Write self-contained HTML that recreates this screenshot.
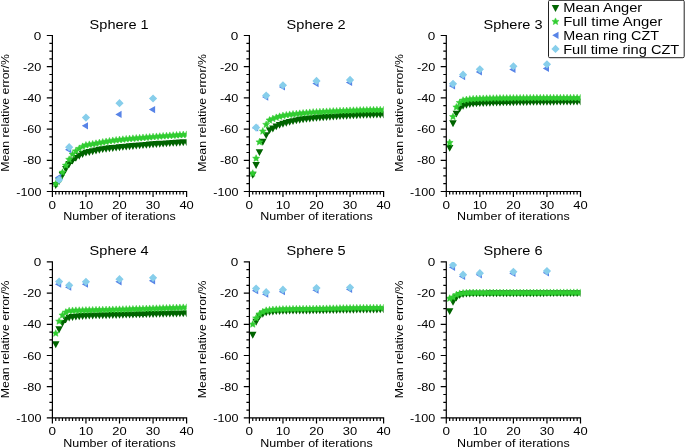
<!DOCTYPE html>
<html><head><meta charset="utf-8"><title>Mean relative error vs iterations</title>
<style>html,body{margin:0;padding:0;background:#fff}body{width:685px;height:448px;overflow:hidden;font-family:"Liberation Sans",sans-serif}svg{display:block;will-change:transform}</style>
</head><body>
<svg width="685" height="448" viewBox="0 0 685 448" font-family="'Liberation Sans', sans-serif" fill="#000">
<rect width="685" height="448" fill="#fff"/>
<defs>
<clipPath id="c0"><rect x="52.4" y="35.5" width="134.2" height="156"/></clipPath>
<clipPath id="c1"><rect x="249.4" y="35.5" width="134.2" height="156"/></clipPath>
<clipPath id="c2"><rect x="446.3" y="35.5" width="134.2" height="156"/></clipPath>
<clipPath id="c3"><rect x="52.4" y="261.9" width="134.2" height="156"/></clipPath>
<clipPath id="c4"><rect x="249.4" y="261.9" width="134.2" height="156"/></clipPath>
<clipPath id="c5"><rect x="446.3" y="261.9" width="134.2" height="156"/></clipPath>
</defs>
<g clip-path="url(#c0)"><path fill="#006400" d="M52 182.08h7.5l-3.75 6.9zM55.36 178.18h7.5l-3.75 6.9zM58.71 172.1h7.5l-3.75 6.9zM62.07 166.01h7.5l-3.75 6.9zM65.42 161.02h7.5l-3.75 6.9zM68.78 157.59h7.5l-3.75 6.9zM72.13 154.94h7.5l-3.75 6.9zM75.49 152.75h7.5l-3.75 6.9zM78.84 151.04h7.5l-3.75 6.9zM82.2 149.63h7.5l-3.75 6.9zM85.55 149.01h7.5l-3.75 6.9zM88.91 148.3h7.5l-3.75 6.9zM92.26 147.53h7.5l-3.75 6.9zM95.62 146.8h7.5l-3.75 6.9zM98.97 146.2h7.5l-3.75 6.9zM102.33 145.74h7.5l-3.75 6.9zM105.68 145.34h7.5l-3.75 6.9zM109.04 144.99h7.5l-3.75 6.9zM112.39 144.64h7.5l-3.75 6.9zM115.75 144.29h7.5l-3.75 6.9zM119.1 143.96h7.5l-3.75 6.9zM122.46 143.63h7.5l-3.75 6.9zM125.81 143.31h7.5l-3.75 6.9zM129.17 143h7.5l-3.75 6.9zM132.52 142.7h7.5l-3.75 6.9zM135.88 142.42h7.5l-3.75 6.9zM139.23 142.14h7.5l-3.75 6.9zM142.59 141.88h7.5l-3.75 6.9zM145.94 141.62h7.5l-3.75 6.9zM149.3 141.36h7.5l-3.75 6.9zM152.65 141.11h7.5l-3.75 6.9zM156.01 140.87h7.5l-3.75 6.9zM159.36 140.63h7.5l-3.75 6.9zM162.72 140.4h7.5l-3.75 6.9zM166.07 140.18h7.5l-3.75 6.9zM169.43 139.96h7.5l-3.75 6.9zM172.78 139.75h7.5l-3.75 6.9zM176.14 139.55h7.5l-3.75 6.9zM179.49 139.36h7.5l-3.75 6.9zM182.85 139.18h7.5l-3.75 6.9z"/><path fill="#32cd32" stroke="#32cd32" stroke-width="0.5" stroke-linejoin="round" d="M55.75 180.16L56.78 182.45L59.27 182.71L57.41 184.39L57.93 186.85L55.75 185.59L53.58 186.85L54.1 184.39L52.24 182.71L54.73 182.45zM59.11 175.32L60.13 177.61L62.63 177.88L60.76 179.56L61.28 182.01L59.11 180.76L56.94 182.01L57.46 179.56L55.59 177.88L58.09 177.61zM62.46 168.77L63.49 171.06L65.98 171.32L64.12 173.01L64.64 175.46L62.46 174.21L60.29 175.46L60.81 173.01L58.95 171.32L61.44 171.06zM65.82 161.75L66.84 164.04L69.34 164.3L67.47 165.99L67.99 168.44L65.82 167.19L63.65 168.44L64.17 165.99L62.3 164.3L64.8 164.04zM69.17 155.82L70.2 158.11L72.69 158.38L70.83 160.06L71.35 162.51L69.17 161.26L67 162.51L67.52 160.06L65.66 158.38L68.15 158.11zM72.53 150.67L73.55 152.97L76.05 153.23L74.18 154.91L74.7 157.37L72.53 156.11L70.36 157.37L70.88 154.91L69.01 153.23L71.51 152.97zM75.88 147.4L76.91 149.69L79.4 149.95L77.54 151.63L78.06 154.09L75.88 152.84L73.71 154.09L74.23 151.63L72.37 149.95L74.86 149.69zM79.24 144.9L80.26 147.19L82.76 147.46L80.89 149.14L81.41 151.59L79.24 150.34L77.07 151.59L77.59 149.14L75.72 147.46L78.22 147.19zM82.59 142.87L83.62 145.17L86.11 145.43L84.25 147.11L84.77 149.57L82.59 148.31L80.42 149.57L80.94 147.11L79.08 145.43L81.57 145.17zM85.95 141.47L86.97 143.76L89.47 144.02L87.6 145.71L88.12 148.16L85.95 146.91L83.78 148.16L84.3 145.71L82.43 144.02L84.93 143.76zM89.3 140.86L90.33 143.15L92.82 143.42L90.96 145.1L91.48 147.55L89.3 146.3L87.13 147.55L87.65 145.1L85.79 143.42L88.28 143.15zM92.66 140.38L93.68 142.67L96.18 142.93L94.31 144.61L94.83 147.07L92.66 145.81L90.49 147.07L91.01 144.61L89.14 142.93L91.64 142.67zM96.01 139.76L97.04 142.05L99.53 142.31L97.67 144L98.19 146.45L96.01 145.2L93.84 146.45L94.36 144L92.5 142.31L94.99 142.05zM99.37 139.11L100.39 141.4L102.89 141.67L101.02 143.35L101.54 145.8L99.37 144.55L97.2 145.8L97.72 143.35L95.85 141.67L98.35 141.4zM102.72 138.5L103.75 140.8L106.24 141.06L104.38 142.74L104.9 145.2L102.72 143.94L100.55 145.2L101.07 142.74L99.21 141.06L101.7 140.8zM106.08 137.95L107.1 140.24L109.6 140.5L107.73 142.18L108.25 144.64L106.08 143.38L103.91 144.64L104.43 142.18L102.56 140.5L105.06 140.24zM109.43 137.41L110.46 139.7L112.95 139.96L111.09 141.64L111.61 144.1L109.43 142.85L107.26 144.1L107.78 141.64L105.92 139.96L108.41 139.7zM112.79 136.91L113.81 139.2L116.31 139.47L114.44 141.15L114.96 143.6L112.79 142.35L110.62 143.6L111.14 141.15L109.27 139.47L111.77 139.2zM116.14 136.48L117.17 138.77L119.66 139.03L117.8 140.71L118.32 143.17L116.14 141.91L113.97 143.17L114.49 140.71L112.63 139.03L115.12 138.77zM119.5 136.09L120.52 138.39L123.02 138.65L121.15 140.33L121.67 142.79L119.5 141.53L117.33 142.79L117.85 140.33L115.98 138.65L118.48 138.39zM122.85 135.74L123.88 138.04L126.37 138.3L124.51 139.98L125.03 142.44L122.85 141.18L120.68 142.44L121.2 139.98L119.34 138.3L121.83 138.04zM126.21 135.41L127.23 137.71L129.73 137.97L127.86 139.65L128.38 142.11L126.21 140.85L124.04 142.11L124.56 139.65L122.69 137.97L125.19 137.71zM129.56 135.11L130.59 137.4L133.08 137.66L131.22 139.34L131.74 141.8L129.56 140.54L127.39 141.8L127.91 139.34L126.05 137.66L128.54 137.4zM132.92 134.81L133.94 137.11L136.44 137.37L134.57 139.05L135.09 141.51L132.92 140.25L130.75 141.51L131.27 139.05L129.4 137.37L131.9 137.11zM136.27 134.53L137.3 136.82L139.79 137.09L137.93 138.77L138.45 141.22L136.27 139.97L134.1 141.22L134.62 138.77L132.76 137.09L135.25 136.82zM139.63 134.25L140.65 136.55L143.15 136.81L141.28 138.49L141.8 140.95L139.63 139.69L137.46 140.95L137.98 138.49L136.11 136.81L138.61 136.55zM142.98 133.98L144.01 136.27L146.5 136.54L144.64 138.22L145.16 140.67L142.98 139.42L140.81 140.67L141.33 138.22L139.47 136.54L141.96 136.27zM146.34 133.71L147.36 136L149.86 136.26L147.99 137.95L148.51 140.4L146.34 139.15L144.17 140.4L144.69 137.95L142.82 136.26L145.32 136zM149.69 133.44L150.72 135.73L153.21 136L151.35 137.68L151.87 140.13L149.69 138.88L147.52 140.13L148.04 137.68L146.18 136L148.67 135.73zM153.05 133.18L154.07 135.47L156.57 135.73L154.7 137.41L155.22 139.87L153.05 138.61L150.88 139.87L151.4 137.41L149.53 135.73L152.03 135.47zM156.4 132.92L157.43 135.21L159.92 135.47L158.06 137.15L158.58 139.61L156.4 138.36L154.23 139.61L154.75 137.15L152.89 135.47L155.38 135.21zM159.76 132.66L160.78 134.96L163.28 135.22L161.41 136.9L161.93 139.36L159.76 138.1L157.59 139.36L158.11 136.9L156.24 135.22L158.74 134.96zM163.11 132.41L164.14 134.71L166.63 134.97L164.77 136.65L165.29 139.11L163.11 137.85L160.94 139.11L161.46 136.65L159.6 134.97L162.09 134.71zM166.47 132.17L167.49 134.46L169.99 134.73L168.12 136.41L168.64 138.86L166.47 137.61L164.3 138.86L164.82 136.41L162.95 134.73L165.45 134.46zM169.82 131.94L170.85 134.23L173.34 134.49L171.48 136.17L172 138.63L169.82 137.37L167.65 138.63L168.17 136.17L166.31 134.49L168.8 134.23zM173.18 131.71L174.2 134L176.7 134.26L174.83 135.94L175.35 138.4L173.18 137.14L171.01 138.4L171.53 135.94L169.66 134.26L172.16 134zM176.53 131.48L177.56 133.78L180.05 134.04L178.19 135.72L178.71 138.18L176.53 136.92L174.36 138.18L174.88 135.72L173.02 134.04L175.51 133.78zM179.89 131.27L180.91 133.56L183.41 133.82L181.54 135.5L182.06 137.96L179.89 136.71L177.72 137.96L178.24 135.5L176.37 133.82L178.87 133.56zM183.24 131.06L184.27 133.35L186.76 133.62L184.9 135.3L185.42 137.75L183.24 136.5L181.07 137.75L181.59 135.3L179.73 133.62L182.22 133.35zM186.6 130.86L187.62 133.15L190.12 133.42L188.25 135.1L188.77 137.55L186.6 136.3L184.43 137.55L184.95 135.1L183.08 133.42L185.58 133.15z"/><path fill="#5884e7" d="M61.19 173.86v7.2l-6.24 -3.6zM71.25 146.09v7.2l-6.24 -3.6zM88.03 122.22v7.2l-6.24 -3.6zM121.58 110.84v7.2l-6.24 -3.6zM155.13 106v7.2l-6.24 -3.6z"/><path fill="#87ceeb" d="M59.11 175.7l4.1 4.1l-4.1 4.1l-4.1 -4.1zM69.17 143.1l4.1 4.1l-4.1 4.1l-4.1 -4.1zM85.95 113.46l4.1 4.1l-4.1 4.1l-4.1 -4.1zM119.5 99.1l4.1 4.1l-4.1 4.1l-4.1 -4.1zM153.05 94.42l4.1 4.1l-4.1 4.1l-4.1 -4.1z"/></g>
<path d="M52.4 34.9V191.5H187.2M52.4 35.5h-5.6M52.4 43.3h-3M52.4 51.1h-3M52.4 58.9h-3M52.4 66.7h-5.6M52.4 74.5h-3M52.4 82.3h-3M52.4 90.1h-3M52.4 97.9h-5.6M52.4 105.7h-3M52.4 113.5h-3M52.4 121.3h-3M52.4 129.1h-5.6M52.4 136.9h-3M52.4 144.7h-3M52.4 152.5h-3M52.4 160.3h-5.6M52.4 168.1h-3M52.4 175.9h-3M52.4 183.7h-3M52.4 191.5h-5.6M52.4 191.5v5.6M55.75 191.5v3M59.11 191.5v3M62.46 191.5v3M65.82 191.5v3M69.17 191.5v3M72.53 191.5v3M75.88 191.5v3M79.24 191.5v3M82.59 191.5v3M85.95 191.5v5.6M89.3 191.5v3M92.66 191.5v3M96.01 191.5v3M99.37 191.5v3M102.72 191.5v3M106.08 191.5v3M109.43 191.5v3M112.79 191.5v3M116.14 191.5v3M119.5 191.5v5.6M122.85 191.5v3M126.21 191.5v3M129.56 191.5v3M132.92 191.5v3M136.27 191.5v3M139.63 191.5v3M142.98 191.5v3M146.34 191.5v3M149.69 191.5v3M153.05 191.5v5.6M156.4 191.5v3M159.76 191.5v3M163.11 191.5v3M166.47 191.5v3M169.82 191.5v3M173.18 191.5v3M176.53 191.5v3M179.89 191.5v3M183.24 191.5v3M186.6 191.5v5.6" fill="none" stroke="#000" stroke-width="1.2"/>
<text x="41.4" y="39.55" font-size="11.23" text-anchor="end" textLength="7.52" lengthAdjust="spacingAndGlyphs">0</text>
<text x="41.4" y="70.75" font-size="11.23" text-anchor="end" textLength="18.29" lengthAdjust="spacingAndGlyphs">-20</text>
<text x="41.4" y="101.95" font-size="11.23" text-anchor="end" textLength="18.29" lengthAdjust="spacingAndGlyphs">-40</text>
<text x="41.4" y="133.15" font-size="11.23" text-anchor="end" textLength="18.29" lengthAdjust="spacingAndGlyphs">-60</text>
<text x="41.4" y="164.35" font-size="11.23" text-anchor="end" textLength="18.29" lengthAdjust="spacingAndGlyphs">-80</text>
<text x="41.4" y="195.55" font-size="11.23" text-anchor="end" textLength="25.16" lengthAdjust="spacingAndGlyphs">-100</text>
<text x="52.4" y="209" font-size="11.23" text-anchor="middle" textLength="7.52" lengthAdjust="spacingAndGlyphs">0</text>
<text x="85.95" y="209" font-size="11.23" text-anchor="middle" textLength="14.4" lengthAdjust="spacingAndGlyphs">10</text>
<text x="119.5" y="209" font-size="11.23" text-anchor="middle" textLength="14.4" lengthAdjust="spacingAndGlyphs">20</text>
<text x="153.05" y="209" font-size="11.23" text-anchor="middle" textLength="14.4" lengthAdjust="spacingAndGlyphs">30</text>
<text x="186.6" y="209" font-size="11.23" text-anchor="middle" textLength="14.4" lengthAdjust="spacingAndGlyphs">40</text>
<text x="119.5" y="220.4" font-size="11.23" text-anchor="middle" textLength="112.54" lengthAdjust="spacingAndGlyphs">Number of iterations</text>
<text x="9.1" y="112.9" font-size="11.23" text-anchor="middle" textLength="117.69" lengthAdjust="spacingAndGlyphs" transform="rotate(-90 9.1 112.9)">Mean relative error/%</text>
<text x="119.1" y="28.7" font-size="13.52" text-anchor="middle" textLength="58.97" lengthAdjust="spacingAndGlyphs">Sphere 1</text>
<g clip-path="url(#c1)"><path fill="#006400" d="M249 171.78h7.5l-3.75 6.9zM252.36 162.11h7.5l-3.75 6.9zM255.72 149.16h7.5l-3.75 6.9zM259.07 138.87h7.5l-3.75 6.9zM262.43 132.16h7.5l-3.75 6.9zM265.78 127.17h7.5l-3.75 6.9zM269.13 125.61h7.5l-3.75 6.9zM272.49 123.42h7.5l-3.75 6.9zM275.85 121.93h7.5l-3.75 6.9zM279.2 120.77h7.5l-3.75 6.9zM282.56 119.8h7.5l-3.75 6.9zM285.91 118.92h7.5l-3.75 6.9zM289.26 118.14h7.5l-3.75 6.9zM292.62 117.46h7.5l-3.75 6.9zM295.98 116.87h7.5l-3.75 6.9zM299.33 116.36h7.5l-3.75 6.9zM302.69 115.9h7.5l-3.75 6.9zM306.04 115.49h7.5l-3.75 6.9zM309.39 115.13h7.5l-3.75 6.9zM312.75 114.84h7.5l-3.75 6.9zM316.11 114.59h7.5l-3.75 6.9zM319.46 114.34h7.5l-3.75 6.9zM322.81 114.09h7.5l-3.75 6.9zM326.17 113.85h7.5l-3.75 6.9zM329.52 113.61h7.5l-3.75 6.9zM332.88 113.39h7.5l-3.75 6.9zM336.24 113.17h7.5l-3.75 6.9zM339.59 112.96h7.5l-3.75 6.9zM342.94 112.76h7.5l-3.75 6.9zM346.3 112.57h7.5l-3.75 6.9zM349.65 112.39h7.5l-3.75 6.9zM353.01 112.23h7.5l-3.75 6.9zM356.37 112.08h7.5l-3.75 6.9zM359.72 111.95h7.5l-3.75 6.9zM363.07 111.84h7.5l-3.75 6.9zM366.43 111.75h7.5l-3.75 6.9zM369.78 111.67h7.5l-3.75 6.9zM373.14 111.61h7.5l-3.75 6.9zM376.5 111.58h7.5l-3.75 6.9zM379.85 111.57h7.5l-3.75 6.9z"/><path fill="#32cd32" stroke="#32cd32" stroke-width="0.5" stroke-linejoin="round" d="M252.75 169.7L253.78 172L256.27 172.26L254.41 173.94L254.93 176.4L252.75 175.14L250.58 176.4L251.1 173.94L249.24 172.26L251.73 172zM256.11 154.73L257.13 157.02L259.63 157.28L257.76 158.97L258.28 161.42L256.11 160.17L253.94 161.42L254.46 158.97L252.59 157.28L255.09 157.02zM259.47 138.35L260.49 140.64L262.98 140.9L261.12 142.59L261.64 145.04L259.47 143.79L257.29 145.04L257.81 142.59L255.95 140.9L258.44 140.64zM262.82 127.58L263.84 129.88L266.34 130.14L264.47 131.82L264.99 134.28L262.82 133.02L260.65 134.28L261.17 131.82L259.3 130.14L261.8 129.88zM266.18 120.88L267.2 123.17L269.69 123.43L267.83 125.11L268.35 127.57L266.18 126.32L264 127.57L264.52 125.11L262.66 123.43L265.15 123.17zM269.53 116.51L270.55 118.8L273.05 119.06L271.18 120.75L271.7 123.2L269.53 121.95L267.36 123.2L267.88 120.75L266.01 119.06L268.51 118.8zM272.88 115.1L273.91 117.4L276.4 117.66L274.54 119.34L275.06 121.8L272.88 120.54L270.71 121.8L271.23 119.34L269.37 117.66L271.86 117.4zM276.24 113.86L277.26 116.15L279.76 116.41L277.89 118.09L278.41 120.55L276.24 119.3L274.07 120.55L274.59 118.09L272.72 116.41L275.22 116.15zM279.6 112.81L280.62 115.1L283.11 115.36L281.25 117.04L281.77 119.5L279.6 118.24L277.42 119.5L277.94 117.04L276.08 115.36L278.57 115.1zM282.95 111.98L283.97 114.28L286.47 114.54L284.6 116.22L285.12 118.68L282.95 117.42L280.78 118.68L281.3 116.22L279.43 114.54L281.93 114.28zM286.31 111.41L287.33 113.7L289.82 113.97L287.96 115.65L288.48 118.1L286.31 116.85L284.13 118.1L284.65 115.65L282.79 113.97L285.28 113.7zM289.66 110.93L290.68 113.22L293.18 113.48L291.31 115.16L291.83 117.62L289.66 116.37L287.49 117.62L288.01 115.16L286.14 113.48L288.64 113.22zM293.01 110.51L294.04 112.81L296.53 113.07L294.67 114.75L295.19 117.21L293.01 115.95L290.84 117.21L291.36 114.75L289.5 113.07L291.99 112.81zM296.37 110.15L297.39 112.44L299.89 112.7L298.02 114.38L298.54 116.84L296.37 115.58L294.2 116.84L294.72 114.38L292.85 112.7L295.35 112.44zM299.73 109.8L300.75 112.09L303.24 112.36L301.38 114.04L301.9 116.49L299.73 115.24L297.55 116.49L298.07 114.04L296.21 112.36L298.7 112.09zM303.08 109.46L304.1 111.76L306.6 112.02L304.73 113.7L305.25 116.16L303.08 114.9L300.91 116.16L301.43 113.7L299.56 112.02L302.06 111.76zM306.44 109.14L307.46 111.44L309.95 111.7L308.09 113.38L308.61 115.84L306.44 114.58L304.26 115.84L304.78 113.38L302.92 111.7L305.41 111.44zM309.79 108.85L310.81 111.14L313.31 111.41L311.44 113.09L311.96 115.54L309.79 114.29L307.62 115.54L308.14 113.09L306.27 111.41L308.77 111.14zM313.14 108.6L314.17 110.89L316.66 111.15L314.8 112.84L315.32 115.29L313.14 114.04L310.97 115.29L311.49 112.84L309.63 111.15L312.12 110.89zM316.5 108.4L317.52 110.69L320.02 110.95L318.15 112.63L318.67 115.09L316.5 113.84L314.33 115.09L314.85 112.63L312.98 110.95L315.48 110.69zM319.86 108.22L320.88 110.52L323.37 110.78L321.51 112.46L322.03 114.92L319.86 113.66L317.68 114.92L318.2 112.46L316.34 110.78L318.83 110.52zM323.21 108.06L324.23 110.35L326.73 110.61L324.86 112.29L325.38 114.75L323.21 113.49L321.04 114.75L321.56 112.29L319.69 110.61L322.19 110.35zM326.56 107.89L327.59 110.18L330.08 110.45L328.22 112.13L328.74 114.58L326.56 113.33L324.39 114.58L324.91 112.13L323.05 110.45L325.54 110.18zM329.92 107.73L330.94 110.02L333.44 110.28L331.57 111.96L332.09 114.42L329.92 113.17L327.75 114.42L328.27 111.96L326.4 110.28L328.9 110.02zM333.27 107.57L334.3 109.86L336.79 110.13L334.93 111.81L335.45 114.26L333.27 113.01L331.1 114.26L331.62 111.81L329.76 110.13L332.25 109.86zM336.63 107.42L337.65 109.71L340.15 109.97L338.28 111.65L338.8 114.11L336.63 112.86L334.46 114.11L334.98 111.65L333.11 109.97L335.61 109.71zM339.99 107.27L341.01 109.56L343.5 109.83L341.64 111.51L342.16 113.96L339.99 112.71L337.81 113.96L338.33 111.51L336.47 109.83L338.96 109.56zM343.34 107.13L344.36 109.42L346.86 109.69L344.99 111.37L345.51 113.82L343.34 112.57L341.17 113.82L341.69 111.37L339.82 109.69L342.32 109.42zM346.69 107L347.72 109.29L350.21 109.55L348.35 111.24L348.87 113.69L346.69 112.44L344.52 113.69L345.04 111.24L343.18 109.55L345.67 109.29zM350.05 106.87L351.07 109.17L353.57 109.43L351.7 111.11L352.22 113.57L350.05 112.31L347.88 113.57L348.4 111.11L346.53 109.43L349.03 109.17zM353.4 106.76L354.43 109.05L356.92 109.31L355.06 110.99L355.58 113.45L353.4 112.2L351.23 113.45L351.75 110.99L349.89 109.31L352.38 109.05zM356.76 106.65L357.78 108.94L360.28 109.21L358.41 110.89L358.93 113.34L356.76 112.09L354.59 113.34L355.11 110.89L353.24 109.21L355.74 108.94zM360.12 106.55L361.14 108.85L363.63 109.11L361.77 110.79L362.29 113.25L360.12 111.99L357.94 113.25L358.46 110.79L356.6 109.11L359.09 108.85zM363.47 106.47L364.49 108.76L366.99 109.02L365.12 110.7L365.64 113.16L363.47 111.91L361.3 113.16L361.82 110.7L359.95 109.02L362.45 108.76zM366.82 106.39L367.85 108.68L370.34 108.95L368.48 110.63L369 113.08L366.82 111.83L364.65 113.08L365.17 110.63L363.31 108.95L365.8 108.68zM370.18 106.33L371.2 108.62L373.7 108.89L371.83 110.57L372.35 113.02L370.18 111.77L368.01 113.02L368.53 110.57L366.66 108.89L369.16 108.62zM373.53 106.28L374.56 108.57L377.05 108.84L375.19 110.52L375.71 112.97L373.53 111.72L371.36 112.97L371.88 110.52L370.02 108.84L372.51 108.57zM376.89 106.24L377.91 108.54L380.41 108.8L378.54 110.48L379.06 112.94L376.89 111.68L374.72 112.94L375.24 110.48L373.37 108.8L375.87 108.54zM380.25 106.22L381.27 108.51L383.76 108.78L381.9 110.46L382.42 112.91L380.25 111.66L378.07 112.91L378.59 110.46L376.73 108.78L379.22 108.51zM383.6 106.21L384.62 108.51L387.12 108.77L385.25 110.45L385.77 112.91L383.6 111.65L381.43 112.91L381.95 110.45L380.08 108.77L382.58 108.51z"/><path fill="#5884e7" d="M258.19 124.41v7.2l-6.24 -3.6zM268.25 93.52v7.2l-6.24 -3.6zM285.03 83.38v7.2l-6.24 -3.6zM318.58 79.95v7.2l-6.24 -3.6zM352.13 78.86v7.2l-6.24 -3.6z"/><path fill="#87ceeb" d="M256.11 123.44l4.1 4.1l-4.1 4.1l-4.1 -4.1zM266.18 91.46l4.1 4.1l-4.1 4.1l-4.1 -4.1zM282.95 81.16l4.1 4.1l-4.1 4.1l-4.1 -4.1zM316.5 76.8l4.1 4.1l-4.1 4.1l-4.1 -4.1zM350.05 75.86l4.1 4.1l-4.1 4.1l-4.1 -4.1z"/></g>
<path d="M249.4 34.9V191.5H384.2M249.4 35.5h-5.6M249.4 43.3h-3M249.4 51.1h-3M249.4 58.9h-3M249.4 66.7h-5.6M249.4 74.5h-3M249.4 82.3h-3M249.4 90.1h-3M249.4 97.9h-5.6M249.4 105.7h-3M249.4 113.5h-3M249.4 121.3h-3M249.4 129.1h-5.6M249.4 136.9h-3M249.4 144.7h-3M249.4 152.5h-3M249.4 160.3h-5.6M249.4 168.1h-3M249.4 175.9h-3M249.4 183.7h-3M249.4 191.5h-5.6M249.4 191.5v5.6M252.75 191.5v3M256.11 191.5v3M259.47 191.5v3M262.82 191.5v3M266.18 191.5v3M269.53 191.5v3M272.88 191.5v3M276.24 191.5v3M279.6 191.5v3M282.95 191.5v5.6M286.31 191.5v3M289.66 191.5v3M293.01 191.5v3M296.37 191.5v3M299.73 191.5v3M303.08 191.5v3M306.44 191.5v3M309.79 191.5v3M313.14 191.5v3M316.5 191.5v5.6M319.86 191.5v3M323.21 191.5v3M326.56 191.5v3M329.92 191.5v3M333.27 191.5v3M336.63 191.5v3M339.99 191.5v3M343.34 191.5v3M346.69 191.5v3M350.05 191.5v5.6M353.4 191.5v3M356.76 191.5v3M360.12 191.5v3M363.47 191.5v3M366.82 191.5v3M370.18 191.5v3M373.53 191.5v3M376.89 191.5v3M380.25 191.5v3M383.6 191.5v5.6" fill="none" stroke="#000" stroke-width="1.2"/>
<text x="238.4" y="39.55" font-size="11.23" text-anchor="end" textLength="7.52" lengthAdjust="spacingAndGlyphs">0</text>
<text x="238.4" y="70.75" font-size="11.23" text-anchor="end" textLength="18.29" lengthAdjust="spacingAndGlyphs">-20</text>
<text x="238.4" y="101.95" font-size="11.23" text-anchor="end" textLength="18.29" lengthAdjust="spacingAndGlyphs">-40</text>
<text x="238.4" y="133.15" font-size="11.23" text-anchor="end" textLength="18.29" lengthAdjust="spacingAndGlyphs">-60</text>
<text x="238.4" y="164.35" font-size="11.23" text-anchor="end" textLength="18.29" lengthAdjust="spacingAndGlyphs">-80</text>
<text x="238.4" y="195.55" font-size="11.23" text-anchor="end" textLength="25.16" lengthAdjust="spacingAndGlyphs">-100</text>
<text x="249.4" y="209" font-size="11.23" text-anchor="middle" textLength="7.52" lengthAdjust="spacingAndGlyphs">0</text>
<text x="282.95" y="209" font-size="11.23" text-anchor="middle" textLength="14.4" lengthAdjust="spacingAndGlyphs">10</text>
<text x="316.5" y="209" font-size="11.23" text-anchor="middle" textLength="14.4" lengthAdjust="spacingAndGlyphs">20</text>
<text x="350.05" y="209" font-size="11.23" text-anchor="middle" textLength="14.4" lengthAdjust="spacingAndGlyphs">30</text>
<text x="383.6" y="209" font-size="11.23" text-anchor="middle" textLength="14.4" lengthAdjust="spacingAndGlyphs">40</text>
<text x="316.5" y="220.4" font-size="11.23" text-anchor="middle" textLength="112.54" lengthAdjust="spacingAndGlyphs">Number of iterations</text>
<text x="206.1" y="112.9" font-size="11.23" text-anchor="middle" textLength="117.69" lengthAdjust="spacingAndGlyphs" transform="rotate(-90 206.1 112.9)">Mean relative error/%</text>
<text x="316.1" y="28.7" font-size="13.52" text-anchor="middle" textLength="58.97" lengthAdjust="spacingAndGlyphs">Sphere 2</text>
<g clip-path="url(#c2)"><path fill="#006400" d="M445.91 144.95h7.5l-3.75 6.9zM449.26 120.3h7.5l-3.75 6.9zM452.62 110.63h7.5l-3.75 6.9zM455.97 105.48h7.5l-3.75 6.9zM459.32 102.83h7.5l-3.75 6.9zM462.68 101.75h7.5l-3.75 6.9zM466.04 101.12h7.5l-3.75 6.9zM469.39 100.7h7.5l-3.75 6.9zM472.75 100.39h7.5l-3.75 6.9zM476.1 100.18h7.5l-3.75 6.9zM479.45 100.03h7.5l-3.75 6.9zM482.81 99.9h7.5l-3.75 6.9zM486.17 99.78h7.5l-3.75 6.9zM489.52 99.68h7.5l-3.75 6.9zM492.88 99.59h7.5l-3.75 6.9zM496.23 99.51h7.5l-3.75 6.9zM499.58 99.44h7.5l-3.75 6.9zM502.94 99.37h7.5l-3.75 6.9zM506.3 99.31h7.5l-3.75 6.9zM509.65 99.24h7.5l-3.75 6.9zM513 99.18h7.5l-3.75 6.9zM516.36 99.12h7.5l-3.75 6.9zM519.72 99.07h7.5l-3.75 6.9zM523.07 99.01h7.5l-3.75 6.9zM526.42 98.96h7.5l-3.75 6.9zM529.78 98.91h7.5l-3.75 6.9zM533.13 98.87h7.5l-3.75 6.9zM536.49 98.83h7.5l-3.75 6.9zM539.85 98.8h7.5l-3.75 6.9zM543.2 98.78h7.5l-3.75 6.9zM546.55 98.75h7.5l-3.75 6.9zM549.91 98.73h7.5l-3.75 6.9zM553.26 98.71h7.5l-3.75 6.9zM556.62 98.69h7.5l-3.75 6.9zM559.98 98.67h7.5l-3.75 6.9zM563.33 98.65h7.5l-3.75 6.9zM566.68 98.64h7.5l-3.75 6.9zM570.04 98.63h7.5l-3.75 6.9zM573.39 98.62h7.5l-3.75 6.9zM576.75 98.62h7.5l-3.75 6.9z"/><path fill="#32cd32" stroke="#32cd32" stroke-width="0.5" stroke-linejoin="round" d="M449.66 138.97L450.68 141.27L453.17 141.53L451.31 143.21L451.83 145.67L449.66 144.41L447.48 145.67L448 143.21L446.14 141.53L448.63 141.27zM453.01 113.08L454.03 115.37L456.53 115.63L454.66 117.31L455.18 119.77L453.01 118.52L450.84 119.77L451.36 117.31L449.49 115.63L451.99 115.37zM456.37 103.56L457.39 105.85L459.88 106.12L458.02 107.8L458.54 110.25L456.37 109L454.19 110.25L454.71 107.8L452.85 106.12L455.34 105.85zM459.72 99.04L460.74 101.33L463.24 101.59L461.37 103.27L461.89 105.73L459.72 104.48L457.55 105.73L458.07 103.27L456.2 101.59L458.7 101.33zM463.07 96.7L464.1 98.99L466.59 99.25L464.73 100.93L465.25 103.39L463.07 102.14L460.9 103.39L461.42 100.93L459.56 99.25L462.05 98.99zM466.43 95.99L467.45 98.28L469.95 98.55L468.08 100.23L468.6 102.68L466.43 101.43L464.26 102.68L464.78 100.23L462.91 98.55L465.41 98.28zM469.79 95.6L470.81 97.9L473.3 98.16L471.44 99.84L471.96 102.3L469.79 101.04L467.61 102.3L468.13 99.84L466.27 98.16L468.76 97.9zM473.14 95.33L474.16 97.62L476.66 97.88L474.79 99.56L475.31 102.02L473.14 100.76L470.97 102.02L471.49 99.56L469.62 97.88L472.12 97.62zM476.5 95.12L477.52 97.41L480.01 97.67L478.15 99.35L478.67 101.81L476.5 100.55L474.32 101.81L474.84 99.35L472.98 97.67L475.47 97.41zM479.85 94.98L480.87 97.27L483.37 97.54L481.5 99.22L482.02 101.67L479.85 100.42L477.68 101.67L478.2 99.22L476.33 97.54L478.83 97.27zM483.2 94.89L484.23 97.18L486.72 97.45L484.86 99.13L485.38 101.58L483.2 100.33L481.03 101.58L481.55 99.13L479.69 97.45L482.18 97.18zM486.56 94.81L487.58 97.1L490.08 97.36L488.21 99.04L488.73 101.5L486.56 100.25L484.39 101.5L484.91 99.04L483.04 97.36L485.54 97.1zM489.92 94.74L490.94 97.03L493.43 97.29L491.57 98.97L492.09 101.43L489.92 100.17L487.74 101.43L488.26 98.97L486.4 97.29L488.89 97.03zM493.27 94.67L494.29 96.97L496.79 97.23L494.92 98.91L495.44 101.37L493.27 100.11L491.1 101.37L491.62 98.91L489.75 97.23L492.25 96.97zM496.62 94.62L497.65 96.91L500.14 97.17L498.28 98.85L498.8 101.31L496.62 100.06L494.45 101.31L494.97 98.85L493.11 97.17L495.6 96.91zM499.98 94.57L501 96.86L503.5 97.13L501.63 98.81L502.15 101.26L499.98 100.01L497.81 101.26L498.33 98.81L496.46 97.13L498.96 96.86zM503.33 94.53L504.36 96.82L506.85 97.08L504.99 98.76L505.51 101.22L503.33 99.97L501.16 101.22L501.68 98.76L499.82 97.08L502.31 96.82zM506.69 94.49L507.71 96.78L510.21 97.05L508.34 98.73L508.86 101.18L506.69 99.93L504.52 101.18L505.04 98.73L503.17 97.05L505.67 96.78zM510.05 94.46L511.07 96.75L513.56 97.02L511.7 98.7L512.22 101.15L510.05 99.9L507.87 101.15L508.39 98.7L506.53 97.02L509.02 96.75zM513.4 94.43L514.42 96.73L516.92 96.99L515.05 98.67L515.57 101.13L513.4 99.87L511.23 101.13L511.75 98.67L509.88 96.99L512.38 96.73zM516.75 94.41L517.78 96.7L520.27 96.97L518.41 98.65L518.93 101.1L516.75 99.85L514.58 101.1L515.1 98.65L513.24 96.97L515.73 96.7zM520.11 94.39L521.13 96.68L523.63 96.95L521.76 98.63L522.28 101.08L520.11 99.83L517.94 101.08L518.46 98.63L516.59 96.95L519.09 96.68zM523.47 94.37L524.49 96.66L526.98 96.93L525.12 98.61L525.64 101.06L523.47 99.81L521.29 101.06L521.81 98.61L519.95 96.93L522.44 96.66zM526.82 94.35L527.84 96.65L530.34 96.91L528.47 98.59L528.99 101.05L526.82 99.79L524.65 101.05L525.17 98.59L523.3 96.91L525.8 96.65zM530.17 94.34L531.2 96.63L533.69 96.9L531.83 98.58L532.35 101.03L530.17 99.78L528 101.03L528.52 98.58L526.66 96.9L529.15 96.63zM533.53 94.32L534.55 96.62L537.05 96.88L535.18 98.56L535.7 101.02L533.53 99.76L531.36 101.02L531.88 98.56L530.01 96.88L532.51 96.62zM536.88 94.31L537.91 96.6L540.4 96.87L538.54 98.55L539.06 101.01L536.88 99.75L534.71 101.01L535.23 98.55L533.37 96.87L535.86 96.6zM540.24 94.3L541.26 96.59L543.76 96.86L541.89 98.54L542.41 100.99L540.24 99.74L538.07 100.99L538.59 98.54L536.72 96.86L539.22 96.59zM543.6 94.29L544.62 96.58L547.11 96.85L545.25 98.53L545.77 100.98L543.6 99.73L541.42 100.98L541.94 98.53L540.08 96.85L542.57 96.58zM546.95 94.28L547.97 96.57L550.47 96.83L548.6 98.52L549.12 100.97L546.95 99.72L544.78 100.97L545.3 98.52L543.43 96.83L545.93 96.57zM550.3 94.27L551.33 96.56L553.82 96.82L551.96 98.51L552.48 100.96L550.3 99.71L548.13 100.96L548.65 98.51L546.79 96.82L549.28 96.56zM553.66 94.26L554.68 96.55L557.18 96.81L555.31 98.5L555.83 100.95L553.66 99.7L551.49 100.95L552.01 98.5L550.14 96.81L552.64 96.55zM557.01 94.25L558.04 96.54L560.53 96.8L558.67 98.49L559.19 100.94L557.01 99.69L554.84 100.94L555.36 98.49L553.5 96.8L555.99 96.54zM560.37 94.24L561.39 96.53L563.89 96.8L562.02 98.48L562.54 100.93L560.37 99.68L558.2 100.93L558.72 98.48L556.85 96.8L559.35 96.53zM563.73 94.23L564.75 96.52L567.24 96.79L565.38 98.47L565.9 100.92L563.73 99.67L561.55 100.92L562.07 98.47L560.21 96.79L562.7 96.52zM567.08 94.22L568.1 96.52L570.6 96.78L568.73 98.46L569.25 100.92L567.08 99.66L564.91 100.92L565.43 98.46L563.56 96.78L566.06 96.52zM570.43 94.22L571.46 96.51L573.95 96.77L572.09 98.45L572.61 100.91L570.43 99.66L568.26 100.91L568.78 98.45L566.92 96.77L569.41 96.51zM573.79 94.21L574.81 96.5L577.31 96.77L575.44 98.45L575.96 100.9L573.79 99.65L571.62 100.9L572.14 98.45L570.27 96.77L572.77 96.5zM577.14 94.2L578.17 96.5L580.66 96.76L578.8 98.44L579.32 100.9L577.14 99.64L574.97 100.9L575.49 98.44L573.63 96.76L576.12 96.5zM580.5 94.2L581.52 96.49L584.02 96.76L582.15 98.44L582.67 100.89L580.5 99.64L578.33 100.89L578.85 98.44L576.98 96.76L579.48 96.49z"/><path fill="#5884e7" d="M455.09 82.29v7.2l-6.24 -3.6zM465.15 72.93v7.2l-6.24 -3.6zM481.93 68.4v7.2l-6.24 -3.6zM515.48 65.91v7.2l-6.24 -3.6zM549.03 64.82v7.2l-6.24 -3.6z"/><path fill="#87ceeb" d="M453.01 79.76l4.1 4.1l-4.1 4.1l-4.1 -4.1zM463.07 70.56l4.1 4.1l-4.1 4.1l-4.1 -4.1zM479.85 65.25l4.1 4.1l-4.1 4.1l-4.1 -4.1zM513.4 62.13l4.1 4.1l-4.1 4.1l-4.1 -4.1zM546.95 60.26l4.1 4.1l-4.1 4.1l-4.1 -4.1z"/></g>
<path d="M446.3 34.9V191.5H581.1M446.3 35.5h-5.6M446.3 43.3h-3M446.3 51.1h-3M446.3 58.9h-3M446.3 66.7h-5.6M446.3 74.5h-3M446.3 82.3h-3M446.3 90.1h-3M446.3 97.9h-5.6M446.3 105.7h-3M446.3 113.5h-3M446.3 121.3h-3M446.3 129.1h-5.6M446.3 136.9h-3M446.3 144.7h-3M446.3 152.5h-3M446.3 160.3h-5.6M446.3 168.1h-3M446.3 175.9h-3M446.3 183.7h-3M446.3 191.5h-5.6M446.3 191.5v5.6M449.66 191.5v3M453.01 191.5v3M456.37 191.5v3M459.72 191.5v3M463.07 191.5v3M466.43 191.5v3M469.79 191.5v3M473.14 191.5v3M476.5 191.5v3M479.85 191.5v5.6M483.2 191.5v3M486.56 191.5v3M489.92 191.5v3M493.27 191.5v3M496.62 191.5v3M499.98 191.5v3M503.33 191.5v3M506.69 191.5v3M510.05 191.5v3M513.4 191.5v5.6M516.75 191.5v3M520.11 191.5v3M523.47 191.5v3M526.82 191.5v3M530.17 191.5v3M533.53 191.5v3M536.88 191.5v3M540.24 191.5v3M543.6 191.5v3M546.95 191.5v5.6M550.3 191.5v3M553.66 191.5v3M557.01 191.5v3M560.37 191.5v3M563.73 191.5v3M567.08 191.5v3M570.43 191.5v3M573.79 191.5v3M577.14 191.5v3M580.5 191.5v5.6" fill="none" stroke="#000" stroke-width="1.2"/>
<text x="435.3" y="39.55" font-size="11.23" text-anchor="end" textLength="7.52" lengthAdjust="spacingAndGlyphs">0</text>
<text x="435.3" y="70.75" font-size="11.23" text-anchor="end" textLength="18.29" lengthAdjust="spacingAndGlyphs">-20</text>
<text x="435.3" y="101.95" font-size="11.23" text-anchor="end" textLength="18.29" lengthAdjust="spacingAndGlyphs">-40</text>
<text x="435.3" y="133.15" font-size="11.23" text-anchor="end" textLength="18.29" lengthAdjust="spacingAndGlyphs">-60</text>
<text x="435.3" y="164.35" font-size="11.23" text-anchor="end" textLength="18.29" lengthAdjust="spacingAndGlyphs">-80</text>
<text x="435.3" y="195.55" font-size="11.23" text-anchor="end" textLength="25.16" lengthAdjust="spacingAndGlyphs">-100</text>
<text x="446.3" y="209" font-size="11.23" text-anchor="middle" textLength="7.52" lengthAdjust="spacingAndGlyphs">0</text>
<text x="479.85" y="209" font-size="11.23" text-anchor="middle" textLength="14.4" lengthAdjust="spacingAndGlyphs">10</text>
<text x="513.4" y="209" font-size="11.23" text-anchor="middle" textLength="14.4" lengthAdjust="spacingAndGlyphs">20</text>
<text x="546.95" y="209" font-size="11.23" text-anchor="middle" textLength="14.4" lengthAdjust="spacingAndGlyphs">30</text>
<text x="580.5" y="209" font-size="11.23" text-anchor="middle" textLength="14.4" lengthAdjust="spacingAndGlyphs">40</text>
<text x="513.4" y="220.4" font-size="11.23" text-anchor="middle" textLength="112.54" lengthAdjust="spacingAndGlyphs">Number of iterations</text>
<text x="403" y="112.9" font-size="11.23" text-anchor="middle" textLength="117.69" lengthAdjust="spacingAndGlyphs" transform="rotate(-90 403 112.9)">Mean relative error/%</text>
<text x="513" y="28.7" font-size="13.52" text-anchor="middle" textLength="58.97" lengthAdjust="spacingAndGlyphs">Sphere 3</text>
<g clip-path="url(#c3)"><path fill="#006400" d="M52 341.24h7.5l-3.75 6.9zM55.36 326.27h7.5l-3.75 6.9zM58.71 320.03h7.5l-3.75 6.9zM62.07 316.44h7.5l-3.75 6.9zM65.42 314.72h7.5l-3.75 6.9zM68.78 314.1h7.5l-3.75 6.9zM72.13 313.63h7.5l-3.75 6.9zM75.49 313.28h7.5l-3.75 6.9zM78.84 313.03h7.5l-3.75 6.9zM82.2 312.85h7.5l-3.75 6.9zM85.55 312.7h7.5l-3.75 6.9zM88.91 312.58h7.5l-3.75 6.9zM92.26 312.47h7.5l-3.75 6.9zM95.62 312.38h7.5l-3.75 6.9zM98.97 312.3h7.5l-3.75 6.9zM102.33 312.23h7.5l-3.75 6.9zM105.68 312.15h7.5l-3.75 6.9zM109.04 312.08h7.5l-3.75 6.9zM112.39 312h7.5l-3.75 6.9zM115.75 311.92h7.5l-3.75 6.9zM119.1 311.82h7.5l-3.75 6.9zM122.46 311.72h7.5l-3.75 6.9zM125.81 311.62h7.5l-3.75 6.9zM129.17 311.52h7.5l-3.75 6.9zM132.52 311.42h7.5l-3.75 6.9zM135.88 311.33h7.5l-3.75 6.9zM139.23 311.23h7.5l-3.75 6.9zM142.59 311.14h7.5l-3.75 6.9zM145.94 311.06h7.5l-3.75 6.9zM149.3 310.98h7.5l-3.75 6.9zM152.65 310.91h7.5l-3.75 6.9zM156.01 310.83h7.5l-3.75 6.9zM159.36 310.76h7.5l-3.75 6.9zM162.72 310.7h7.5l-3.75 6.9zM166.07 310.63h7.5l-3.75 6.9zM169.43 310.57h7.5l-3.75 6.9zM172.78 310.51h7.5l-3.75 6.9zM176.14 310.46h7.5l-3.75 6.9zM179.49 310.4h7.5l-3.75 6.9zM182.85 310.36h7.5l-3.75 6.9z"/><path fill="#32cd32" stroke="#32cd32" stroke-width="0.5" stroke-linejoin="round" d="M55.75 329.65L56.78 331.94L59.27 332.2L57.41 333.89L57.93 336.34L55.75 335.09L53.58 336.34L54.1 333.89L52.24 332.2L54.73 331.94zM59.11 317.64L60.13 319.93L62.63 320.19L60.76 321.87L61.28 324.33L59.11 323.07L56.94 324.33L57.46 321.87L55.59 320.19L58.09 319.93zM62.46 311.55L63.49 313.85L65.98 314.11L64.12 315.79L64.64 318.25L62.46 316.99L60.29 318.25L60.81 315.79L58.95 314.11L61.44 313.85zM65.82 308.59L66.84 310.88L69.34 311.14L67.47 312.83L67.99 315.28L65.82 314.03L63.65 315.28L64.17 312.83L62.3 311.14L64.8 310.88zM69.17 307.18L70.2 309.48L72.69 309.74L70.83 311.42L71.35 313.88L69.17 312.62L67 313.88L67.52 311.42L65.66 309.74L68.15 309.48zM72.53 306.95L73.55 309.25L76.05 309.51L74.18 311.19L74.7 313.65L72.53 312.39L70.36 313.65L70.88 311.19L69.01 309.51L71.51 309.25zM75.88 306.81L76.91 309.1L79.4 309.37L77.54 311.05L78.06 313.5L75.88 312.25L73.71 313.5L74.23 311.05L72.37 309.37L74.86 309.1zM79.24 306.72L80.26 309.01L82.76 309.27L80.89 310.95L81.41 313.41L79.24 312.15L77.07 313.41L77.59 310.95L75.72 309.27L78.22 309.01zM82.59 306.64L83.62 308.94L86.11 309.2L84.25 310.88L84.77 313.34L82.59 312.08L80.42 313.34L80.94 310.88L79.08 309.2L81.57 308.94zM85.95 306.56L86.97 308.85L89.47 309.12L87.6 310.8L88.12 313.25L85.95 312L83.78 313.25L84.3 310.8L82.43 309.12L84.93 308.85zM89.3 306.47L90.33 308.76L92.82 309.02L90.96 310.7L91.48 313.16L89.3 311.91L87.13 313.16L87.65 310.7L85.79 309.02L88.28 308.76zM92.66 306.38L93.68 308.67L96.18 308.94L94.31 310.62L94.83 313.07L92.66 311.82L90.49 313.07L91.01 310.62L89.14 308.94L91.64 308.67zM96.01 306.3L97.04 308.59L99.53 308.86L97.67 310.54L98.19 312.99L96.01 311.74L93.84 312.99L94.36 310.54L92.5 308.86L94.99 308.59zM99.37 306.23L100.39 308.52L102.89 308.78L101.02 310.46L101.54 312.92L99.37 311.66L97.2 312.92L97.72 310.46L95.85 308.78L98.35 308.52zM102.72 306.15L103.75 308.45L106.24 308.71L104.38 310.39L104.9 312.85L102.72 311.59L100.55 312.85L101.07 310.39L99.21 308.71L101.7 308.45zM106.08 306.08L107.1 308.38L109.6 308.64L107.73 310.32L108.25 312.78L106.08 311.52L103.91 312.78L104.43 310.32L102.56 308.64L105.06 308.38zM109.43 306.01L110.46 308.3L112.95 308.57L111.09 310.25L111.61 312.7L109.43 311.45L107.26 312.7L107.78 310.25L105.92 308.57L108.41 308.3zM112.79 305.94L113.81 308.23L116.31 308.5L114.44 310.18L114.96 312.63L112.79 311.38L110.62 312.63L111.14 310.18L109.27 308.5L111.77 308.23zM116.14 305.86L117.17 308.16L119.66 308.42L117.8 310.1L118.32 312.56L116.14 311.3L113.97 312.56L114.49 310.1L112.63 308.42L115.12 308.16zM119.5 305.78L120.52 308.07L123.02 308.34L121.15 310.02L121.67 312.47L119.5 311.22L117.33 312.47L117.85 310.02L115.98 308.34L118.48 308.07zM122.85 305.69L123.88 307.99L126.37 308.25L124.51 309.93L125.03 312.39L122.85 311.13L120.68 312.39L121.2 309.93L119.34 308.25L121.83 307.99zM126.21 305.61L127.23 307.9L129.73 308.16L127.86 309.84L128.38 312.3L126.21 311.04L124.04 312.3L124.56 309.84L122.69 308.16L125.19 307.9zM129.56 305.52L130.59 307.81L133.08 308.07L131.22 309.75L131.74 312.21L129.56 310.96L127.39 312.21L127.91 309.75L126.05 308.07L128.54 307.81zM132.92 305.42L133.94 307.72L136.44 307.98L134.57 309.66L135.09 312.12L132.92 310.86L130.75 312.12L131.27 309.66L129.4 307.98L131.9 307.72zM136.27 305.33L137.3 307.62L139.79 307.89L137.93 309.57L138.45 312.02L136.27 310.77L134.1 312.02L134.62 309.57L132.76 307.89L135.25 307.62zM139.63 305.24L140.65 307.53L143.15 307.79L141.28 309.47L141.8 311.93L139.63 310.68L137.46 311.93L137.98 309.47L136.11 307.79L138.61 307.53zM142.98 305.14L144.01 307.43L146.5 307.7L144.64 309.38L145.16 311.83L142.98 310.58L140.81 311.83L141.33 309.38L139.47 307.7L141.96 307.43zM146.34 305.04L147.36 307.34L149.86 307.6L147.99 309.28L148.51 311.74L146.34 310.48L144.17 311.74L144.69 309.28L142.82 307.6L145.32 307.34zM149.69 304.94L150.72 307.24L153.21 307.5L151.35 309.18L151.87 311.64L149.69 310.38L147.52 311.64L148.04 309.18L146.18 307.5L148.67 307.24zM153.05 304.84L154.07 307.14L156.57 307.4L154.7 309.08L155.22 311.54L153.05 310.28L150.88 311.54L151.4 309.08L149.53 307.4L152.03 307.14zM156.4 304.74L157.43 307.04L159.92 307.3L158.06 308.98L158.58 311.44L156.4 310.18L154.23 311.44L154.75 308.98L152.89 307.3L155.38 307.04zM159.76 304.64L160.78 306.93L163.28 307.2L161.41 308.88L161.93 311.33L159.76 310.08L157.59 311.33L158.11 308.88L156.24 307.2L158.74 306.93zM163.11 304.53L164.14 306.83L166.63 307.09L164.77 308.77L165.29 311.23L163.11 309.97L160.94 311.23L161.46 308.77L159.6 307.09L162.09 306.83zM166.47 304.43L167.49 306.72L169.99 306.98L168.12 308.66L168.64 311.12L166.47 309.87L164.3 311.12L164.82 308.66L162.95 306.98L165.45 306.72zM169.82 304.32L170.85 306.61L173.34 306.87L171.48 308.56L172 311.01L169.82 309.76L167.65 311.01L168.17 308.56L166.31 306.87L168.8 306.61zM173.18 304.21L174.2 306.5L176.7 306.76L174.83 308.45L175.35 310.9L173.18 309.65L171.01 310.9L171.53 308.45L169.66 306.76L172.16 306.5zM176.53 304.1L177.56 306.39L180.05 306.65L178.19 308.33L178.71 310.79L176.53 309.54L174.36 310.79L174.88 308.33L173.02 306.65L175.51 306.39zM179.89 303.98L180.91 306.28L183.41 306.54L181.54 308.22L182.06 310.68L179.89 309.42L177.72 310.68L178.24 308.22L176.37 306.54L178.87 306.28zM183.24 303.87L184.27 306.16L186.76 306.42L184.9 308.11L185.42 310.56L183.24 309.31L181.07 310.56L181.59 308.11L179.73 306.42L182.22 306.16zM186.6 303.75L187.62 306.05L190.12 306.31L188.25 307.99L188.77 310.45L186.6 309.19L184.43 310.45L184.95 307.99L183.08 306.31L185.58 306.05z"/><path fill="#5884e7" d="M61.19 280.61v7.2l-6.24 -3.6zM71.25 283.57v7.2l-6.24 -3.6zM88.03 280.61v7.2l-6.24 -3.6zM121.58 278.27v7.2l-6.24 -3.6zM155.13 277.18v7.2l-6.24 -3.6z"/><path fill="#87ceeb" d="M59.11 277.46l4.1 4.1l-4.1 4.1l-4.1 -4.1zM69.17 281.2l4.1 4.1l-4.1 4.1l-4.1 -4.1zM85.95 277.77l4.1 4.1l-4.1 4.1l-4.1 -4.1zM119.5 275.12l4.1 4.1l-4.1 4.1l-4.1 -4.1zM153.05 273.71l4.1 4.1l-4.1 4.1l-4.1 -4.1z"/></g>
<path d="M52.4 261.3V417.9H187.2M52.4 261.9h-5.6M52.4 269.7h-3M52.4 277.5h-3M52.4 285.3h-3M52.4 293.1h-5.6M52.4 300.9h-3M52.4 308.7h-3M52.4 316.5h-3M52.4 324.3h-5.6M52.4 332.1h-3M52.4 339.9h-3M52.4 347.7h-3M52.4 355.5h-5.6M52.4 363.3h-3M52.4 371.1h-3M52.4 378.9h-3M52.4 386.7h-5.6M52.4 394.5h-3M52.4 402.3h-3M52.4 410.1h-3M52.4 417.9h-5.6M52.4 417.9v5.6M55.75 417.9v3M59.11 417.9v3M62.46 417.9v3M65.82 417.9v3M69.17 417.9v3M72.53 417.9v3M75.88 417.9v3M79.24 417.9v3M82.59 417.9v3M85.95 417.9v5.6M89.3 417.9v3M92.66 417.9v3M96.01 417.9v3M99.37 417.9v3M102.72 417.9v3M106.08 417.9v3M109.43 417.9v3M112.79 417.9v3M116.14 417.9v3M119.5 417.9v5.6M122.85 417.9v3M126.21 417.9v3M129.56 417.9v3M132.92 417.9v3M136.27 417.9v3M139.63 417.9v3M142.98 417.9v3M146.34 417.9v3M149.69 417.9v3M153.05 417.9v5.6M156.4 417.9v3M159.76 417.9v3M163.11 417.9v3M166.47 417.9v3M169.82 417.9v3M173.18 417.9v3M176.53 417.9v3M179.89 417.9v3M183.24 417.9v3M186.6 417.9v5.6" fill="none" stroke="#000" stroke-width="1.2"/>
<text x="41.4" y="265.95" font-size="11.23" text-anchor="end" textLength="7.52" lengthAdjust="spacingAndGlyphs">0</text>
<text x="41.4" y="297.15" font-size="11.23" text-anchor="end" textLength="18.29" lengthAdjust="spacingAndGlyphs">-20</text>
<text x="41.4" y="328.35" font-size="11.23" text-anchor="end" textLength="18.29" lengthAdjust="spacingAndGlyphs">-40</text>
<text x="41.4" y="359.55" font-size="11.23" text-anchor="end" textLength="18.29" lengthAdjust="spacingAndGlyphs">-60</text>
<text x="41.4" y="390.75" font-size="11.23" text-anchor="end" textLength="18.29" lengthAdjust="spacingAndGlyphs">-80</text>
<text x="41.4" y="421.95" font-size="11.23" text-anchor="end" textLength="25.16" lengthAdjust="spacingAndGlyphs">-100</text>
<text x="52.4" y="435.4" font-size="11.23" text-anchor="middle" textLength="7.52" lengthAdjust="spacingAndGlyphs">0</text>
<text x="85.95" y="435.4" font-size="11.23" text-anchor="middle" textLength="14.4" lengthAdjust="spacingAndGlyphs">10</text>
<text x="119.5" y="435.4" font-size="11.23" text-anchor="middle" textLength="14.4" lengthAdjust="spacingAndGlyphs">20</text>
<text x="153.05" y="435.4" font-size="11.23" text-anchor="middle" textLength="14.4" lengthAdjust="spacingAndGlyphs">30</text>
<text x="186.6" y="435.4" font-size="11.23" text-anchor="middle" textLength="14.4" lengthAdjust="spacingAndGlyphs">40</text>
<text x="119.5" y="446.8" font-size="11.23" text-anchor="middle" textLength="112.54" lengthAdjust="spacingAndGlyphs">Number of iterations</text>
<text x="9.1" y="339.3" font-size="11.23" text-anchor="middle" textLength="117.69" lengthAdjust="spacingAndGlyphs" transform="rotate(-90 9.1 339.3)">Mean relative error/%</text>
<text x="119.1" y="255.1" font-size="13.52" text-anchor="middle" textLength="58.97" lengthAdjust="spacingAndGlyphs">Sphere 4</text>
<g clip-path="url(#c4)"><path fill="#006400" d="M249 331.73h7.5l-3.75 6.9zM252.36 318.78h7.5l-3.75 6.9zM255.72 313.16h7.5l-3.75 6.9zM259.07 310.82h7.5l-3.75 6.9zM262.43 309.42h7.5l-3.75 6.9zM265.78 308.89h7.5l-3.75 6.9zM269.13 308.49h7.5l-3.75 6.9zM272.49 308.19h7.5l-3.75 6.9zM275.85 307.98h7.5l-3.75 6.9zM279.2 307.86h7.5l-3.75 6.9zM282.56 307.78h7.5l-3.75 6.9zM285.91 307.71h7.5l-3.75 6.9zM289.26 307.66h7.5l-3.75 6.9zM292.62 307.62h7.5l-3.75 6.9zM295.98 307.58h7.5l-3.75 6.9zM299.33 307.55h7.5l-3.75 6.9zM302.69 307.52h7.5l-3.75 6.9zM306.04 307.48h7.5l-3.75 6.9zM309.39 307.44h7.5l-3.75 6.9zM312.75 307.39h7.5l-3.75 6.9zM316.11 307.33h7.5l-3.75 6.9zM319.46 307.27h7.5l-3.75 6.9zM322.81 307.2h7.5l-3.75 6.9zM326.17 307.14h7.5l-3.75 6.9zM329.52 307.07h7.5l-3.75 6.9zM332.88 307h7.5l-3.75 6.9zM336.24 306.93h7.5l-3.75 6.9zM339.59 306.87h7.5l-3.75 6.9zM342.94 306.81h7.5l-3.75 6.9zM346.3 306.77h7.5l-3.75 6.9zM349.65 306.73h7.5l-3.75 6.9zM353.01 306.69h7.5l-3.75 6.9zM356.37 306.65h7.5l-3.75 6.9zM359.72 306.61h7.5l-3.75 6.9zM363.07 306.58h7.5l-3.75 6.9zM366.43 306.55h7.5l-3.75 6.9zM369.78 306.52h7.5l-3.75 6.9zM373.14 306.5h7.5l-3.75 6.9zM376.5 306.47h7.5l-3.75 6.9zM379.85 306.46h7.5l-3.75 6.9z"/><path fill="#32cd32" stroke="#32cd32" stroke-width="0.5" stroke-linejoin="round" d="M252.75 320.6L253.78 322.89L256.27 323.16L254.41 324.84L254.93 327.29L252.75 326.04L250.58 327.29L251.1 324.84L249.24 323.16L251.73 322.89zM256.11 314.52L257.13 316.81L259.63 317.07L257.76 318.75L258.28 321.21L256.11 319.95L253.94 321.21L254.46 318.75L252.59 317.07L255.09 316.81zM259.47 310.46L260.49 312.75L262.98 313.02L261.12 314.7L261.64 317.15L259.47 315.9L257.29 317.15L257.81 314.7L255.95 313.02L258.44 312.75zM262.82 308.28L263.84 310.57L266.34 310.83L264.47 312.51L264.99 314.97L262.82 313.71L260.65 314.97L261.17 312.51L259.3 310.83L261.8 310.57zM266.18 306.79L267.2 309.09L269.69 309.35L267.83 311.03L268.35 313.49L266.18 312.23L264 313.49L264.52 311.03L262.66 309.35L265.15 309.09zM269.53 306.35L270.55 308.65L273.05 308.91L271.18 310.59L271.7 313.05L269.53 311.79L267.36 313.05L267.88 310.59L266.01 308.91L268.51 308.65zM272.88 306.03L273.91 308.32L276.4 308.59L274.54 310.27L275.06 312.72L272.88 311.47L270.71 312.72L271.23 310.27L269.37 308.59L271.86 308.32zM276.24 305.8L277.26 308.1L279.76 308.36L277.89 310.04L278.41 312.5L276.24 311.24L274.07 312.5L274.59 310.04L272.72 308.36L275.22 308.1zM279.6 305.65L280.62 307.94L283.11 308.21L281.25 309.89L281.77 312.34L279.6 311.09L277.42 312.34L277.94 309.89L276.08 308.21L278.57 307.94zM282.95 305.55L283.97 307.84L286.47 308.1L284.6 309.78L285.12 312.24L282.95 310.98L280.78 312.24L281.3 309.78L279.43 308.1L281.93 307.84zM286.31 305.47L287.33 307.76L289.82 308.03L287.96 309.71L288.48 312.16L286.31 310.91L284.13 312.16L284.65 309.71L282.79 308.03L285.28 307.76zM289.66 305.41L290.68 307.7L293.18 307.96L291.31 309.64L291.83 312.1L289.66 310.84L287.49 312.1L288.01 309.64L286.14 307.96L288.64 307.7zM293.01 305.35L294.04 307.65L296.53 307.91L294.67 309.59L295.19 312.05L293.01 310.79L290.84 312.05L291.36 309.59L289.5 307.91L291.99 307.65zM296.37 305.31L297.39 307.6L299.89 307.87L298.02 309.55L298.54 312L296.37 310.75L294.2 312L294.72 309.55L292.85 307.87L295.35 307.6zM299.73 305.27L300.75 307.57L303.24 307.83L301.38 309.51L301.9 311.97L299.73 310.71L297.55 311.97L298.07 309.51L296.21 307.83L298.7 307.57zM303.08 305.24L304.1 307.53L306.6 307.79L304.73 309.48L305.25 311.93L303.08 310.68L300.91 311.93L301.43 309.48L299.56 307.79L302.06 307.53zM306.44 305.2L307.46 307.5L309.95 307.76L308.09 309.44L308.61 311.9L306.44 310.64L304.26 311.9L304.78 309.44L302.92 307.76L305.41 307.5zM309.79 305.17L310.81 307.46L313.31 307.72L311.44 309.41L311.96 311.86L309.79 310.61L307.62 311.86L308.14 309.41L306.27 307.72L308.77 307.46zM313.14 305.13L314.17 307.42L316.66 307.68L314.8 309.36L315.32 311.82L313.14 310.57L310.97 311.82L311.49 309.36L309.63 307.68L312.12 307.42zM316.5 305.08L317.52 307.37L320.02 307.63L318.15 309.32L318.67 311.77L316.5 310.52L314.33 311.77L314.85 309.32L312.98 307.63L315.48 307.37zM319.86 305.02L320.88 307.31L323.37 307.58L321.51 309.26L322.03 311.71L319.86 310.46L317.68 311.71L318.2 309.26L316.34 307.58L318.83 307.31zM323.21 304.96L324.23 307.25L326.73 307.51L324.86 309.2L325.38 311.65L323.21 310.4L321.04 311.65L321.56 309.2L319.69 307.51L322.19 307.25zM326.56 304.89L327.59 307.18L330.08 307.45L328.22 309.13L328.74 311.58L326.56 310.33L324.39 311.58L324.91 309.13L323.05 307.45L325.54 307.18zM329.92 304.82L330.94 307.11L333.44 307.38L331.57 309.06L332.09 311.51L329.92 310.26L327.75 311.51L328.27 309.06L326.4 307.38L328.9 307.11zM333.27 304.75L334.3 307.04L336.79 307.31L334.93 308.99L335.45 311.44L333.27 310.19L331.1 311.44L331.62 308.99L329.76 307.31L332.25 307.04zM336.63 304.68L337.65 306.98L340.15 307.24L338.28 308.92L338.8 311.38L336.63 310.12L334.46 311.38L334.98 308.92L333.11 307.24L335.61 306.98zM339.99 304.62L341.01 306.91L343.5 307.17L341.64 308.85L342.16 311.31L339.99 310.06L337.81 311.31L338.33 308.85L336.47 307.17L338.96 306.91zM343.34 304.56L344.36 306.85L346.86 307.11L344.99 308.79L345.51 311.25L343.34 309.99L341.17 311.25L341.69 308.79L339.82 307.11L342.32 306.85zM346.69 304.5L347.72 306.79L350.21 307.06L348.35 308.74L348.87 311.19L346.69 309.94L344.52 311.19L345.04 308.74L343.18 307.06L345.67 306.79zM350.05 304.45L351.07 306.75L353.57 307.01L351.7 308.69L352.22 311.15L350.05 309.89L347.88 311.15L348.4 308.69L346.53 307.01L349.03 306.75zM353.4 304.41L354.43 306.71L356.92 306.97L355.06 308.65L355.58 311.11L353.4 309.85L351.23 311.11L351.75 308.65L349.89 306.97L352.38 306.71zM356.76 304.37L357.78 306.67L360.28 306.93L358.41 308.61L358.93 311.07L356.76 309.81L354.59 311.07L355.11 308.61L353.24 306.93L355.74 306.67zM360.12 304.34L361.14 306.63L363.63 306.89L361.77 308.57L362.29 311.03L360.12 309.77L357.94 311.03L358.46 308.57L356.6 306.89L359.09 306.63zM363.47 304.3L364.49 306.59L366.99 306.86L365.12 308.54L365.64 310.99L363.47 309.74L361.3 310.99L361.82 308.54L359.95 306.86L362.45 306.59zM366.82 304.27L367.85 306.56L370.34 306.82L368.48 308.5L369 310.96L366.82 309.7L364.65 310.96L365.17 308.5L363.31 306.82L365.8 306.56zM370.18 304.23L371.2 306.53L373.7 306.79L371.83 308.47L372.35 310.93L370.18 309.67L368.01 310.93L368.53 308.47L366.66 306.79L369.16 306.53zM373.53 304.21L374.56 306.5L377.05 306.76L375.19 308.44L375.71 310.9L373.53 309.65L371.36 310.9L371.88 308.44L370.02 306.76L372.51 306.5zM376.89 304.18L377.91 306.47L380.41 306.74L378.54 308.42L379.06 310.87L376.89 309.62L374.72 310.87L375.24 308.42L373.37 306.74L375.87 306.47zM380.25 304.16L381.27 306.45L383.76 306.72L381.9 308.4L382.42 310.85L380.25 309.6L378.07 310.85L378.59 308.4L376.73 306.72L379.22 306.45zM383.6 304.14L384.62 306.44L387.12 306.7L385.25 308.38L385.77 310.84L383.6 309.58L381.43 310.84L381.95 308.38L380.08 306.7L382.58 306.44z"/><path fill="#5884e7" d="M258.19 287.16v7.2l-6.24 -3.6zM268.25 290.59v7.2l-6.24 -3.6zM285.03 288.1v7.2l-6.24 -3.6zM318.58 286.54v7.2l-6.24 -3.6zM352.13 285.76v7.2l-6.24 -3.6z"/><path fill="#87ceeb" d="M256.11 284.48l4.1 4.1l-4.1 4.1l-4.1 -4.1zM266.18 288.06l4.1 4.1l-4.1 4.1l-4.1 -4.1zM282.95 285.57l4.1 4.1l-4.1 4.1l-4.1 -4.1zM316.5 284.01l4.1 4.1l-4.1 4.1l-4.1 -4.1zM350.05 283.38l4.1 4.1l-4.1 4.1l-4.1 -4.1z"/></g>
<path d="M249.4 261.3V417.9H384.2M249.4 261.9h-5.6M249.4 269.7h-3M249.4 277.5h-3M249.4 285.3h-3M249.4 293.1h-5.6M249.4 300.9h-3M249.4 308.7h-3M249.4 316.5h-3M249.4 324.3h-5.6M249.4 332.1h-3M249.4 339.9h-3M249.4 347.7h-3M249.4 355.5h-5.6M249.4 363.3h-3M249.4 371.1h-3M249.4 378.9h-3M249.4 386.7h-5.6M249.4 394.5h-3M249.4 402.3h-3M249.4 410.1h-3M249.4 417.9h-5.6M249.4 417.9v5.6M252.75 417.9v3M256.11 417.9v3M259.47 417.9v3M262.82 417.9v3M266.18 417.9v3M269.53 417.9v3M272.88 417.9v3M276.24 417.9v3M279.6 417.9v3M282.95 417.9v5.6M286.31 417.9v3M289.66 417.9v3M293.01 417.9v3M296.37 417.9v3M299.73 417.9v3M303.08 417.9v3M306.44 417.9v3M309.79 417.9v3M313.14 417.9v3M316.5 417.9v5.6M319.86 417.9v3M323.21 417.9v3M326.56 417.9v3M329.92 417.9v3M333.27 417.9v3M336.63 417.9v3M339.99 417.9v3M343.34 417.9v3M346.69 417.9v3M350.05 417.9v5.6M353.4 417.9v3M356.76 417.9v3M360.12 417.9v3M363.47 417.9v3M366.82 417.9v3M370.18 417.9v3M373.53 417.9v3M376.89 417.9v3M380.25 417.9v3M383.6 417.9v5.6" fill="none" stroke="#000" stroke-width="1.2"/>
<text x="238.4" y="265.95" font-size="11.23" text-anchor="end" textLength="7.52" lengthAdjust="spacingAndGlyphs">0</text>
<text x="238.4" y="297.15" font-size="11.23" text-anchor="end" textLength="18.29" lengthAdjust="spacingAndGlyphs">-20</text>
<text x="238.4" y="328.35" font-size="11.23" text-anchor="end" textLength="18.29" lengthAdjust="spacingAndGlyphs">-40</text>
<text x="238.4" y="359.55" font-size="11.23" text-anchor="end" textLength="18.29" lengthAdjust="spacingAndGlyphs">-60</text>
<text x="238.4" y="390.75" font-size="11.23" text-anchor="end" textLength="18.29" lengthAdjust="spacingAndGlyphs">-80</text>
<text x="238.4" y="421.95" font-size="11.23" text-anchor="end" textLength="25.16" lengthAdjust="spacingAndGlyphs">-100</text>
<text x="249.4" y="435.4" font-size="11.23" text-anchor="middle" textLength="7.52" lengthAdjust="spacingAndGlyphs">0</text>
<text x="282.95" y="435.4" font-size="11.23" text-anchor="middle" textLength="14.4" lengthAdjust="spacingAndGlyphs">10</text>
<text x="316.5" y="435.4" font-size="11.23" text-anchor="middle" textLength="14.4" lengthAdjust="spacingAndGlyphs">20</text>
<text x="350.05" y="435.4" font-size="11.23" text-anchor="middle" textLength="14.4" lengthAdjust="spacingAndGlyphs">30</text>
<text x="383.6" y="435.4" font-size="11.23" text-anchor="middle" textLength="14.4" lengthAdjust="spacingAndGlyphs">40</text>
<text x="316.5" y="446.8" font-size="11.23" text-anchor="middle" textLength="112.54" lengthAdjust="spacingAndGlyphs">Number of iterations</text>
<text x="206.1" y="339.3" font-size="11.23" text-anchor="middle" textLength="117.69" lengthAdjust="spacingAndGlyphs" transform="rotate(-90 206.1 339.3)">Mean relative error/%</text>
<text x="316.1" y="255.1" font-size="13.52" text-anchor="middle" textLength="58.97" lengthAdjust="spacingAndGlyphs">Sphere 5</text>
<g clip-path="url(#c5)"><path fill="#006400" d="M445.91 308.17h7.5l-3.75 6.9zM449.26 298.97h7.5l-3.75 6.9zM452.62 294.6h7.5l-3.75 6.9zM455.97 292.1h7.5l-3.75 6.9zM459.32 291.01h7.5l-3.75 6.9zM462.68 290.72h7.5l-3.75 6.9zM466.04 290.54h7.5l-3.75 6.9zM469.39 290.47h7.5l-3.75 6.9zM472.75 290.44h7.5l-3.75 6.9zM476.1 290.42h7.5l-3.75 6.9zM479.45 290.4h7.5l-3.75 6.9zM482.81 290.38h7.5l-3.75 6.9zM486.17 290.37h7.5l-3.75 6.9zM489.52 290.36h7.5l-3.75 6.9zM492.88 290.35h7.5l-3.75 6.9zM496.23 290.34h7.5l-3.75 6.9zM499.58 290.33h7.5l-3.75 6.9zM502.94 290.33h7.5l-3.75 6.9zM506.3 290.32h7.5l-3.75 6.9zM509.65 290.31h7.5l-3.75 6.9zM513 290.3h7.5l-3.75 6.9zM516.36 290.29h7.5l-3.75 6.9zM519.72 290.28h7.5l-3.75 6.9zM523.07 290.27h7.5l-3.75 6.9zM526.42 290.26h7.5l-3.75 6.9zM529.78 290.25h7.5l-3.75 6.9zM533.13 290.24h7.5l-3.75 6.9zM536.49 290.24h7.5l-3.75 6.9zM539.85 290.23h7.5l-3.75 6.9zM543.2 290.22h7.5l-3.75 6.9zM546.55 290.21h7.5l-3.75 6.9zM549.91 290.2h7.5l-3.75 6.9zM553.26 290.2h7.5l-3.75 6.9zM556.62 290.19h7.5l-3.75 6.9zM559.98 290.18h7.5l-3.75 6.9zM563.33 290.18h7.5l-3.75 6.9zM566.68 290.17h7.5l-3.75 6.9zM570.04 290.16h7.5l-3.75 6.9zM573.39 290.16h7.5l-3.75 6.9zM576.75 290.15h7.5l-3.75 6.9z"/><path fill="#32cd32" stroke="#32cd32" stroke-width="0.5" stroke-linejoin="round" d="M449.66 294.7L450.68 297L453.17 297.26L451.31 298.94L451.83 301.4L449.66 300.14L447.48 301.4L448 298.94L446.14 297.26L448.63 297zM453.01 293.61L454.03 295.91L456.53 296.17L454.66 297.85L455.18 300.31L453.01 299.05L450.84 300.31L451.36 297.85L449.49 296.17L451.99 295.91zM456.37 291.12L457.39 293.41L459.88 293.67L458.02 295.35L458.54 297.81L456.37 296.55L454.19 297.81L454.71 295.35L452.85 293.67L455.34 293.41zM459.72 289.95L460.74 292.24L463.24 292.5L461.37 294.18L461.89 296.64L459.72 295.38L457.55 296.64L458.07 294.18L456.2 292.5L458.7 292.24zM463.07 289.4L464.1 291.69L466.59 291.96L464.73 293.64L465.25 296.09L463.07 294.84L460.9 296.09L461.42 293.64L459.56 291.96L462.05 291.69zM466.43 289.19L467.45 291.49L469.95 291.75L468.08 293.43L468.6 295.89L466.43 294.63L464.26 295.89L464.78 293.43L462.91 291.75L465.41 291.49zM469.79 289.06L470.81 291.35L473.3 291.62L471.44 293.3L471.96 295.75L469.79 294.5L467.61 295.75L468.13 293.3L466.27 291.62L468.76 291.35zM473.14 289.01L474.16 291.3L476.66 291.57L474.79 293.25L475.31 295.7L473.14 294.45L470.97 295.7L471.49 293.25L469.62 291.57L472.12 291.3zM476.5 289.01L477.52 291.3L480.01 291.57L478.15 293.25L478.67 295.7L476.5 294.45L474.32 295.7L474.84 293.25L472.98 291.57L475.47 291.3zM479.85 289.01L480.87 291.3L483.37 291.57L481.5 293.25L482.02 295.7L479.85 294.45L477.68 295.7L478.2 293.25L476.33 291.57L478.83 291.3zM483.2 289.01L484.23 291.3L486.72 291.57L484.86 293.25L485.38 295.7L483.2 294.45L481.03 295.7L481.55 293.25L479.69 291.57L482.18 291.3zM486.56 289.01L487.58 291.3L490.08 291.57L488.21 293.25L488.73 295.7L486.56 294.45L484.39 295.7L484.91 293.25L483.04 291.57L485.54 291.3zM489.92 289.01L490.94 291.3L493.43 291.57L491.57 293.25L492.09 295.7L489.92 294.45L487.74 295.7L488.26 293.25L486.4 291.57L488.89 291.3zM493.27 289.01L494.29 291.3L496.79 291.57L494.92 293.25L495.44 295.7L493.27 294.45L491.1 295.7L491.62 293.25L489.75 291.57L492.25 291.3zM496.62 289.01L497.65 291.3L500.14 291.57L498.28 293.25L498.8 295.7L496.62 294.45L494.45 295.7L494.97 293.25L493.11 291.57L495.6 291.3zM499.98 289.01L501 291.3L503.5 291.57L501.63 293.25L502.15 295.7L499.98 294.45L497.81 295.7L498.33 293.25L496.46 291.57L498.96 291.3zM503.33 289.01L504.36 291.3L506.85 291.57L504.99 293.25L505.51 295.7L503.33 294.45L501.16 295.7L501.68 293.25L499.82 291.57L502.31 291.3zM506.69 289.01L507.71 291.3L510.21 291.57L508.34 293.25L508.86 295.7L506.69 294.45L504.52 295.7L505.04 293.25L503.17 291.57L505.67 291.3zM510.05 289.01L511.07 291.3L513.56 291.57L511.7 293.25L512.22 295.7L510.05 294.45L507.87 295.7L508.39 293.25L506.53 291.57L509.02 291.3zM513.4 289.01L514.42 291.3L516.92 291.57L515.05 293.25L515.57 295.7L513.4 294.45L511.23 295.7L511.75 293.25L509.88 291.57L512.38 291.3zM516.75 289.01L517.78 291.3L520.27 291.57L518.41 293.25L518.93 295.7L516.75 294.45L514.58 295.7L515.1 293.25L513.24 291.57L515.73 291.3zM520.11 289.01L521.13 291.3L523.63 291.56L521.76 293.25L522.28 295.7L520.11 294.45L517.94 295.7L518.46 293.25L516.59 291.56L519.09 291.3zM523.47 289.01L524.49 291.3L526.98 291.56L525.12 293.24L525.64 295.7L523.47 294.44L521.29 295.7L521.81 293.24L519.95 291.56L522.44 291.3zM526.82 289L527.84 291.3L530.34 291.56L528.47 293.24L528.99 295.7L526.82 294.44L524.65 295.7L525.17 293.24L523.3 291.56L525.8 291.3zM530.17 289L531.2 291.29L533.69 291.55L531.83 293.23L532.35 295.69L530.17 294.44L528 295.69L528.52 293.23L526.66 291.55L529.15 291.29zM533.53 288.99L534.55 291.29L537.05 291.55L535.18 293.23L535.7 295.69L533.53 294.43L531.36 295.69L531.88 293.23L530.01 291.55L532.51 291.29zM536.88 288.99L537.91 291.28L540.4 291.54L538.54 293.22L539.06 295.68L536.88 294.43L534.71 295.68L535.23 293.22L533.37 291.54L535.86 291.28zM540.24 288.98L541.26 291.27L543.76 291.54L541.89 293.22L542.41 295.67L540.24 294.42L538.07 295.67L538.59 293.22L536.72 291.54L539.22 291.27zM543.6 288.97L544.62 291.27L547.11 291.53L545.25 293.21L545.77 295.67L543.6 294.41L541.42 295.67L541.94 293.21L540.08 291.53L542.57 291.27zM546.95 288.96L547.97 291.26L550.47 291.52L548.6 293.2L549.12 295.66L546.95 294.4L544.78 295.66L545.3 293.2L543.43 291.52L545.93 291.26zM550.3 288.95L551.33 291.25L553.82 291.51L551.96 293.19L552.48 295.65L550.3 294.39L548.13 295.65L548.65 293.19L546.79 291.51L549.28 291.25zM553.66 288.95L554.68 291.24L557.18 291.5L555.31 293.18L555.83 295.64L553.66 294.38L551.49 295.64L552.01 293.18L550.14 291.5L552.64 291.24zM557.01 288.94L558.04 291.23L560.53 291.49L558.67 293.17L559.19 295.63L557.01 294.37L554.84 295.63L555.36 293.17L553.5 291.49L555.99 291.23zM560.37 288.92L561.39 291.22L563.89 291.48L562.02 293.16L562.54 295.62L560.37 294.36L558.2 295.62L558.72 293.16L556.85 291.48L559.35 291.22zM563.73 288.91L564.75 291.21L567.24 291.47L565.38 293.15L565.9 295.61L563.73 294.35L561.55 295.61L562.07 293.15L560.21 291.47L562.7 291.21zM567.08 288.9L568.1 291.2L570.6 291.46L568.73 293.14L569.25 295.6L567.08 294.34L564.91 295.6L565.43 293.14L563.56 291.46L566.06 291.2zM570.43 288.89L571.46 291.18L573.95 291.45L572.09 293.13L572.61 295.58L570.43 294.33L568.26 295.58L568.78 293.13L566.92 291.45L569.41 291.18zM573.79 288.88L574.81 291.17L577.31 291.44L575.44 293.12L575.96 295.57L573.79 294.32L571.62 295.57L572.14 293.12L570.27 291.44L572.77 291.17zM577.14 288.87L578.17 291.16L580.66 291.42L578.8 293.1L579.32 295.56L577.14 294.31L574.97 295.56L575.49 293.1L573.63 291.42L576.12 291.16zM580.5 288.85L581.52 291.15L584.02 291.41L582.15 293.09L582.67 295.55L580.5 294.29L578.33 295.55L578.85 293.09L576.98 291.41L579.48 291.15z"/><path fill="#5884e7" d="M455.09 263.76v7.2l-6.24 -3.6zM465.15 272.81v7.2l-6.24 -3.6zM481.93 271.25v7.2l-6.24 -3.6zM515.48 269.84v7.2l-6.24 -3.6zM549.03 269.22v7.2l-6.24 -3.6z"/><path fill="#87ceeb" d="M453.01 260.92l4.1 4.1l-4.1 4.1l-4.1 -4.1zM463.07 270.59l4.1 4.1l-4.1 4.1l-4.1 -4.1zM479.85 269.03l4.1 4.1l-4.1 4.1l-4.1 -4.1zM513.4 267.63l4.1 4.1l-4.1 4.1l-4.1 -4.1zM546.95 267l4.1 4.1l-4.1 4.1l-4.1 -4.1z"/></g>
<path d="M446.3 261.3V417.9H581.1M446.3 261.9h-5.6M446.3 269.7h-3M446.3 277.5h-3M446.3 285.3h-3M446.3 293.1h-5.6M446.3 300.9h-3M446.3 308.7h-3M446.3 316.5h-3M446.3 324.3h-5.6M446.3 332.1h-3M446.3 339.9h-3M446.3 347.7h-3M446.3 355.5h-5.6M446.3 363.3h-3M446.3 371.1h-3M446.3 378.9h-3M446.3 386.7h-5.6M446.3 394.5h-3M446.3 402.3h-3M446.3 410.1h-3M446.3 417.9h-5.6M446.3 417.9v5.6M449.66 417.9v3M453.01 417.9v3M456.37 417.9v3M459.72 417.9v3M463.07 417.9v3M466.43 417.9v3M469.79 417.9v3M473.14 417.9v3M476.5 417.9v3M479.85 417.9v5.6M483.2 417.9v3M486.56 417.9v3M489.92 417.9v3M493.27 417.9v3M496.62 417.9v3M499.98 417.9v3M503.33 417.9v3M506.69 417.9v3M510.05 417.9v3M513.4 417.9v5.6M516.75 417.9v3M520.11 417.9v3M523.47 417.9v3M526.82 417.9v3M530.17 417.9v3M533.53 417.9v3M536.88 417.9v3M540.24 417.9v3M543.6 417.9v3M546.95 417.9v5.6M550.3 417.9v3M553.66 417.9v3M557.01 417.9v3M560.37 417.9v3M563.73 417.9v3M567.08 417.9v3M570.43 417.9v3M573.79 417.9v3M577.14 417.9v3M580.5 417.9v5.6" fill="none" stroke="#000" stroke-width="1.2"/>
<text x="435.3" y="265.95" font-size="11.23" text-anchor="end" textLength="7.52" lengthAdjust="spacingAndGlyphs">0</text>
<text x="435.3" y="297.15" font-size="11.23" text-anchor="end" textLength="18.29" lengthAdjust="spacingAndGlyphs">-20</text>
<text x="435.3" y="328.35" font-size="11.23" text-anchor="end" textLength="18.29" lengthAdjust="spacingAndGlyphs">-40</text>
<text x="435.3" y="359.55" font-size="11.23" text-anchor="end" textLength="18.29" lengthAdjust="spacingAndGlyphs">-60</text>
<text x="435.3" y="390.75" font-size="11.23" text-anchor="end" textLength="18.29" lengthAdjust="spacingAndGlyphs">-80</text>
<text x="435.3" y="421.95" font-size="11.23" text-anchor="end" textLength="25.16" lengthAdjust="spacingAndGlyphs">-100</text>
<text x="446.3" y="435.4" font-size="11.23" text-anchor="middle" textLength="7.52" lengthAdjust="spacingAndGlyphs">0</text>
<text x="479.85" y="435.4" font-size="11.23" text-anchor="middle" textLength="14.4" lengthAdjust="spacingAndGlyphs">10</text>
<text x="513.4" y="435.4" font-size="11.23" text-anchor="middle" textLength="14.4" lengthAdjust="spacingAndGlyphs">20</text>
<text x="546.95" y="435.4" font-size="11.23" text-anchor="middle" textLength="14.4" lengthAdjust="spacingAndGlyphs">30</text>
<text x="580.5" y="435.4" font-size="11.23" text-anchor="middle" textLength="14.4" lengthAdjust="spacingAndGlyphs">40</text>
<text x="513.4" y="446.8" font-size="11.23" text-anchor="middle" textLength="112.54" lengthAdjust="spacingAndGlyphs">Number of iterations</text>
<text x="403" y="339.3" font-size="11.23" text-anchor="middle" textLength="117.69" lengthAdjust="spacingAndGlyphs" transform="rotate(-90 403 339.3)">Mean relative error/%</text>
<text x="513" y="255.1" font-size="13.52" text-anchor="middle" textLength="58.97" lengthAdjust="spacingAndGlyphs">Sphere 6</text>
<rect x="548.5" y="0.3" width="135.7" height="57.4" rx="1.3" fill="#fff" stroke="#222" stroke-width="1"/>
<g>
<path fill="#006400" d="M551.75 5.1h7.5l-3.75 6.9z"/>
<path fill="#32cd32" stroke="#32cd32" stroke-width="0.5" stroke-linejoin="round" d="M555.5 17.9L556.52 20.19L559.02 20.46L557.15 22.14L557.67 24.59L555.5 23.34L553.33 24.59L553.85 22.14L551.98 20.46L554.48 20.19z"/>
<path fill="#5884e7" d="M558.48 31.7v7.2l-6.24 -3.6z"/>
<path fill="#87ceeb" d="M555.5 44.8l4.1 4.1l-4.1 4.1l-4.1 -4.1z"/>
</g>
<text x="563.2" y="12.3" font-size="13.52" text-anchor="start" textLength="79.05" lengthAdjust="spacingAndGlyphs">Mean Anger</text>
<text x="563.2" y="26.1" font-size="13.52" text-anchor="start" textLength="99.34" lengthAdjust="spacingAndGlyphs">Full time Anger</text>
<text x="563.2" y="39.9" font-size="13.52" text-anchor="start" textLength="95.81" lengthAdjust="spacingAndGlyphs">Mean ring CZT</text>
<text x="563.2" y="53.7" font-size="13.52" text-anchor="start" textLength="116.11" lengthAdjust="spacingAndGlyphs">Full time ring CZT</text>
</svg>
</body></html>
